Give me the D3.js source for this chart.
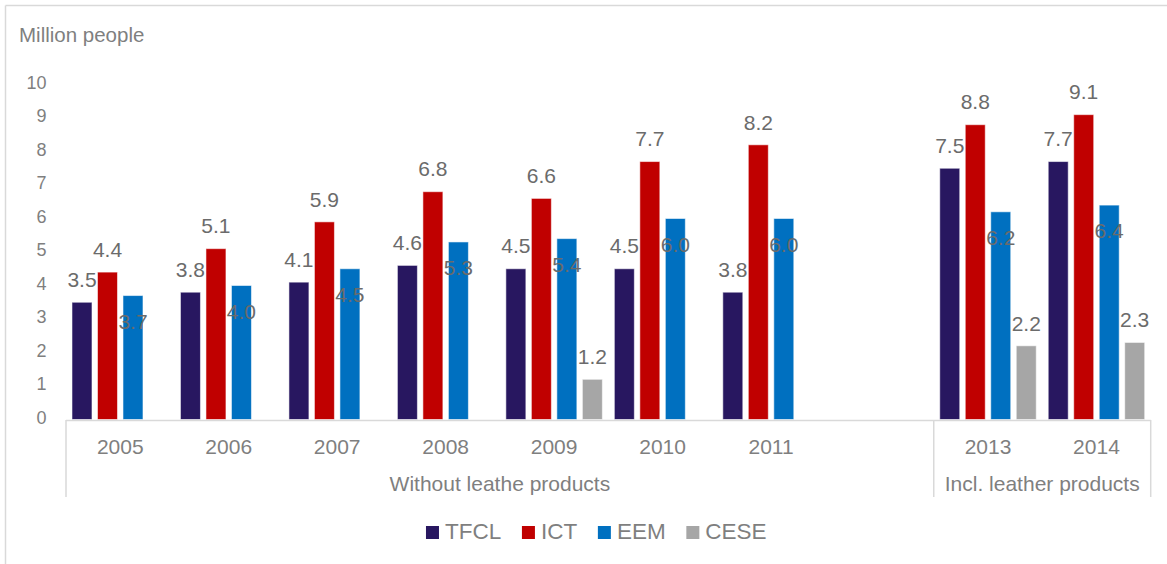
<!DOCTYPE html>
<html>
<head>
<meta charset="utf-8">
<script src="https://cdn.jsdelivr.net/npm/d3@7"></script>
<style>
  html, body { margin: 0; padding: 0; background: #fff; }
  svg { display: block; font-family: "Liberation Sans", Arial, sans-serif; }
</style>
</head>
<body>
<svg id="chart" width="1167" height="564"></svg>
<script>
// ---- data ----
const categories = ["2005", "2006", "2007", "2008", "2009", "2010", "2011", "2012", "2013", "2014"];
const categoryLabels = ["2005", "2006", "2007", "2008", "2009", "2010", "2011", "", "2013", "2014"];
const seriesNames = ["TFCL", "ICT", "EEM", "CESE"];
const tfcl = [3.5, 3.8, 4.1, 4.6, 4.5, 4.5, 3.8, null, 7.5, 7.7];
const ict  = [4.4, 5.1, 5.9, 6.8, 6.6, 7.7, 8.2, null, 8.8, 9.1];
const eem  = [3.7, 4.0, 4.5, 5.3, 5.4, 6.0, 6.0, null, 6.2, 6.4];
const cese = [null, null, null, null, 1.2, null, null, null, 2.2, 2.3];
const groups = [
  { label: "Without leathe products", from: "2005", to: "2012" },
  { label: "Incl. leather products", from: "2013", to: "2014" }
];
const yTicks = [0, 1, 2, 3, 4, 5, 6, 7, 8, 9, 10];
const yTitle = "Million people";

const colors = { TFCL: "#281760", ICT: "#C00000", EEM: "#0070C0", CESE: "#A6A6A6" };
const valuesBySeries = { TFCL: tfcl, ICT: ict, EEM: eem, CESE: cese };

// ---- layout ----
const svg = d3.select("#chart");
const plotLeft = 66, plotRight = 1150.7, plotBottom = 419.5, plotTop = 84.5;

const x0 = d3.scaleBand().domain(categories).range([plotLeft, plotRight]).paddingInner(0).paddingOuter(0);
const x1 = d3.scaleBand().domain(seriesNames).range([0, x0.bandwidth()]).paddingInner(0.216).paddingOuter(0.235);
const y = d3.scaleLinear().domain([0, 10]).range([plotBottom, plotTop]);

const axisColor = "#d9d9d9";
const textGray = "#7f7f7f";

// frame
svg.append("line").attr("x1", 5.5).attr("x2", 1167).attr("y1", 5.5).attr("y2", 5.5)
  .attr("stroke", axisColor).attr("stroke-width", 1.5);
svg.append("line").attr("x1", 5.5).attr("x2", 5.5).attr("y1", 5.5).attr("y2", 564)
  .attr("stroke", axisColor).attr("stroke-width", 1.5);

// y title
svg.append("text").attr("x", 19).attr("y", 41.5).attr("font-size", 20.5).attr("fill", textGray).text(yTitle);

// y tick labels
svg.append("g").selectAll("text").data(yTicks).join("text")
  .attr("x", 46.5).attr("y", d => y(d) + 4)
  .attr("text-anchor", "end").attr("font-size", 18).attr("fill", textGray)
  .text(d => d);

// bars
const flat = [];
categories.forEach((c, i) => {
  seriesNames.forEach(s => {
    const v = valuesBySeries[s][i];
    if (v !== null && v !== undefined) flat.push({ cat: c, series: s, value: v });
  });
});

svg.append("g").selectAll("rect").data(flat).join("rect")
  .attr("x", d => x0(d.cat) + x1(d.series))
  .attr("y", d => y(d.value))
  .attr("width", x1.bandwidth())
  .attr("height", d => y(0) - y(d.value))
  .attr("fill", d => colors[d.series])
  .attr("stroke", "#ffffff").attr("stroke-opacity", 0.55).attr("stroke-width", 1);

// data labels
svg.append("g").selectAll("text").data(flat).join("text")
  .attr("x", d => x0(d.cat) + x1(d.series) + x1.bandwidth() / 2)
  .attr("y", d => d.series === "EEM" ? y(d.value) + 33 : y(d.value) - 15.3)
  .attr("text-anchor", "middle").attr("font-size", 21).attr("fill", "#6b6b6b")
  .text(d => d3.format(".1f")(d.value));

// x axis line
svg.append("line").attr("x1", plotLeft).attr("x2", plotRight).attr("y1", 420.5).attr("y2", 420.5)
  .attr("stroke", axisColor).attr("stroke-width", 1.5);

// group separators
const sepXs = [plotLeft, x0("2013"), plotRight];
svg.append("g").selectAll("line").data(sepXs).join("line")
  .attr("x1", d => d).attr("x2", d => d).attr("y1", 420).attr("y2", 497)
  .attr("stroke", axisColor).attr("stroke-width", 1.5);

// year labels
svg.append("g").selectAll("text").data(categories).join("text")
  .attr("x", d => x0(d) + x0.bandwidth() / 2).attr("y", 453.5)
  .attr("text-anchor", "middle").attr("font-size", 21).attr("fill", textGray)
  .text((d, i) => categoryLabels[i]);

// group labels
svg.append("g").selectAll("text").data(groups).join("text")
  .attr("x", d => (x0(d.from) + x0(d.to) + x0.bandwidth()) / 2).attr("y", 490.5)
  .attr("text-anchor", "middle").attr("font-size", 21).attr("fill", textGray)
  .text(d => d.label);

// legend
const lg = svg.append("g");
const items = lg.selectAll("g").data(seriesNames).join("g");
items.append("rect").attr("width", 13).attr("height", 13).attr("y", 526).attr("fill", d => colors[d]);
items.append("text").attr("y", 539.3).attr("font-size", 22.5).attr("fill", textGray).text(d => d);
let cx = 0;
const sq = 13, gap = 6, itemGap = 20.7;
const positions = [];
items.each(function () {
  const t = d3.select(this).select("text").node().getComputedTextLength();
  positions.push({ start: cx, tw: t });
  cx += sq + gap + t + itemGap;
});
const totalW = cx - itemGap;
const startX = 596.3 - totalW / 2;
items.each(function (d, i) {
  const g = d3.select(this);
  g.select("rect").attr("x", startX + positions[i].start);
  g.select("text").attr("x", startX + positions[i].start + sq + gap);
});
</script>
</body>
</html>
